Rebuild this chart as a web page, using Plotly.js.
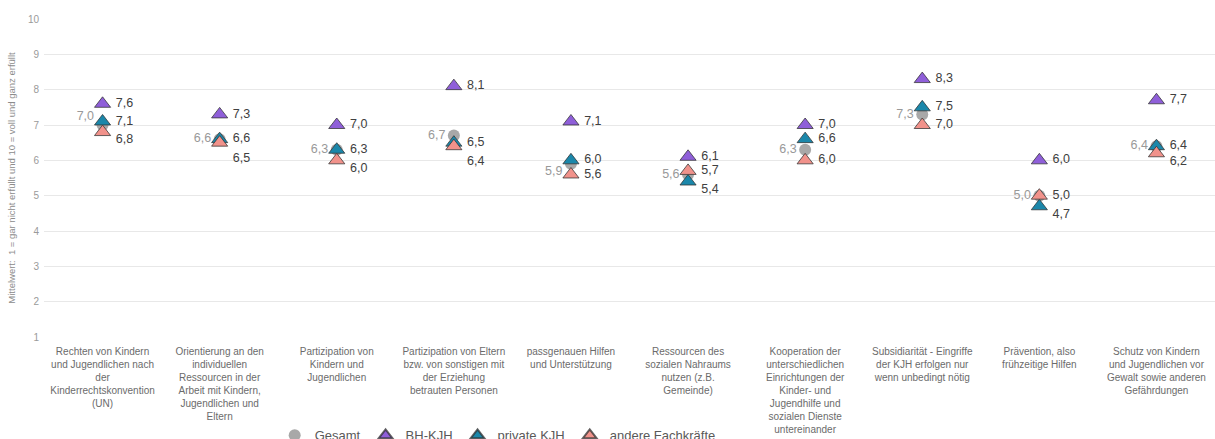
<!DOCTYPE html>
<html>
<head>
<meta charset="utf-8">
<script src="https://cdn.plot.ly/plotly-3.0.1.min.js"></script>
<style>html,body{margin:0;padding:0;background:#fff;}#chart{width:1215px;height:439px;}</style>
</head>
<body>
<div id="chart"></div>
<script>
var categories = [
  "Rechten von Kindern<br>und Jugendlichen nach<br>der<br>Kinderrechtskonvention<br>(UN)",
  "Orientierung an den<br>individuellen<br>Ressourcen in der<br>Arbeit mit Kindern,<br>Jugendlichen und<br>Eltern",
  "Partizipation von<br>Kindern und<br>Jugendlichen",
  "Partizipation von Eltern<br>bzw. von sonstigen mit<br>der Erziehung<br>betrauten Personen",
  "passgenauen Hilfen<br>und Unterstützung",
  "Ressourcen des<br>sozialen Nahraums<br>nutzen (z.B.<br>Gemeinde)",
  "Kooperation der<br>unterschiedlichen<br>Einrichtungen der<br>Kinder- und<br>Jugendhilfe und<br>sozialen Dienste<br>untereinander",
  "Subsidiarität - Eingriffe<br>der KJH erfolgen nur<br>wenn unbedingt nötig",
  "Prävention, also<br>frühzeitige Hilfen",
  "Schutz von Kindern<br>und Jugendlichen vor<br>Gewalt sowie anderen<br>Gefährdungen"
];
var gesamt  = [7.0, 6.6, 6.3, 6.7, 5.9, 5.6, 6.3, 7.3, 5.0, 6.4];
var bhKjh   = [7.6, 7.3, 7.0, 8.1, 7.1, 6.1, 7.0, 8.3, 6.0, 7.7];
var privKjh = [7.1, 6.6, 6.3, 6.5, 6.0, 5.4, 6.6, 7.5, 4.7, 6.4];
var andere  = [6.8, 6.5, 6.0, 6.4, 5.6, 5.7, 6.0, 7.0, 5.0, 6.2];
var yTicks  = [1, 2, 3, 4, 5, 6, 7, 8, 9, 10];

// label placement styles (no data)
var MR = "middle right", BR = "bottom right";
var N = "\u00a0%{y:.1f}";            // plain label
var D = "<br>\u00a0%{y:.1f}";        // nudged half a line down
var anderePos = [MR, BR, MR, BR, MR, MR, MR, MR, MR, MR];
var andereTpl = [D, N, D, N, N, N, N, N, N, D];
var privTpl   = [N, N, N, N, N, D, N, N, D, N];
var gesamtTpl = ["%{y:.1f}<br>", "%{y:.1f}", "%{y:.1f}", "%{y:.1f}", "<br>%{y:.1f}",
                 "%{y:.1f}", "%{y:.1f}", "%{y:.1f}", "%{y:.1f}", "%{y:.1f}"];

var outline = {color: "rgba(50,50,50,0.75)", width: 1};
var valFont = {family: "Liberation Sans, Arial, sans-serif", size: 12.5, color: "#404040"};

var traces = [
  {name: "Gesamt", x: categories, y: gesamt, type: "scatter", mode: "markers+text",
   marker: {symbol: "circle", size: 12, color: "#a8a8a8"},
   texttemplate: gesamtTpl, textposition: "middle left",
   textfont: {family: "Liberation Sans, Arial, sans-serif", size: 12.5, color: "#999999"}},
  {name: "BH-KJH", x: categories, y: bhKjh, type: "scatter", mode: "markers+text",
   marker: {symbol: "triangle-up", size: 14, color: "#8f5fd9", line: outline},
   texttemplate: N, textposition: MR, textfont: valFont},
  {name: "private KJH", x: categories, y: privKjh, type: "scatter", mode: "markers+text",
   marker: {symbol: "triangle-up", size: 14, color: "#1b87aa", line: outline},
   texttemplate: privTpl, textposition: MR, textfont: valFont},
  {name: "andere Fachkräfte", x: categories, y: andere, type: "scatter", mode: "markers+text",
   marker: {symbol: "triangle-up", size: 14, color: "#f1928b", line: outline},
   texttemplate: andereTpl, textposition: anderePos, textfont: valFont}
];

var layout = {
  width: 1215, height: 439,
  margin: {l: 44, r: 0, t: 19, b: 102, autoexpand: false},
  paper_bgcolor: "#ffffff", plot_bgcolor: "#ffffff",
  separators: ",.",
  font: {family: "Liberation Sans, Arial, sans-serif", color: "#666666"},
  showlegend: true,
  legend: {orientation: "h", x: 0.197, xanchor: "left", y: -0.262, yanchor: "top",
           itemwidth: 30,
           font: {size: 13, color: "#595959"}, itemsizing: "constant", traceorder: "normal"},
  xaxis: {type: "category", range: [-0.5, 9.5], showgrid: false, zeroline: false, showline: false,
          tickfont: {size: 10, color: "#6b6b6b"}, ticks: "", automargin: false,
          ticklabelstandoff: 7},
  yaxis: {range: [1, 10], tickvals: yTicks, showgrid: true, gridcolor: "#e8e8e8", gridwidth: 1,
          zeroline: false, showline: false, ticks: "", automargin: false,
          ticklabelstandoff: 4,
          tickfont: {size: 10, color: "#9a9a9a"},
          title: {text: "Mittelwert:  1 = gar nicht erfüllt und 10 = voll und ganz erfüllt",
                  font: {size: 9.5, color: "#8c8c8c"}, standoff: 10}}
};

Plotly.newPlot("chart", traces, layout, {displayModeBar: false, staticPlot: true});
</script>
</body>
</html>
